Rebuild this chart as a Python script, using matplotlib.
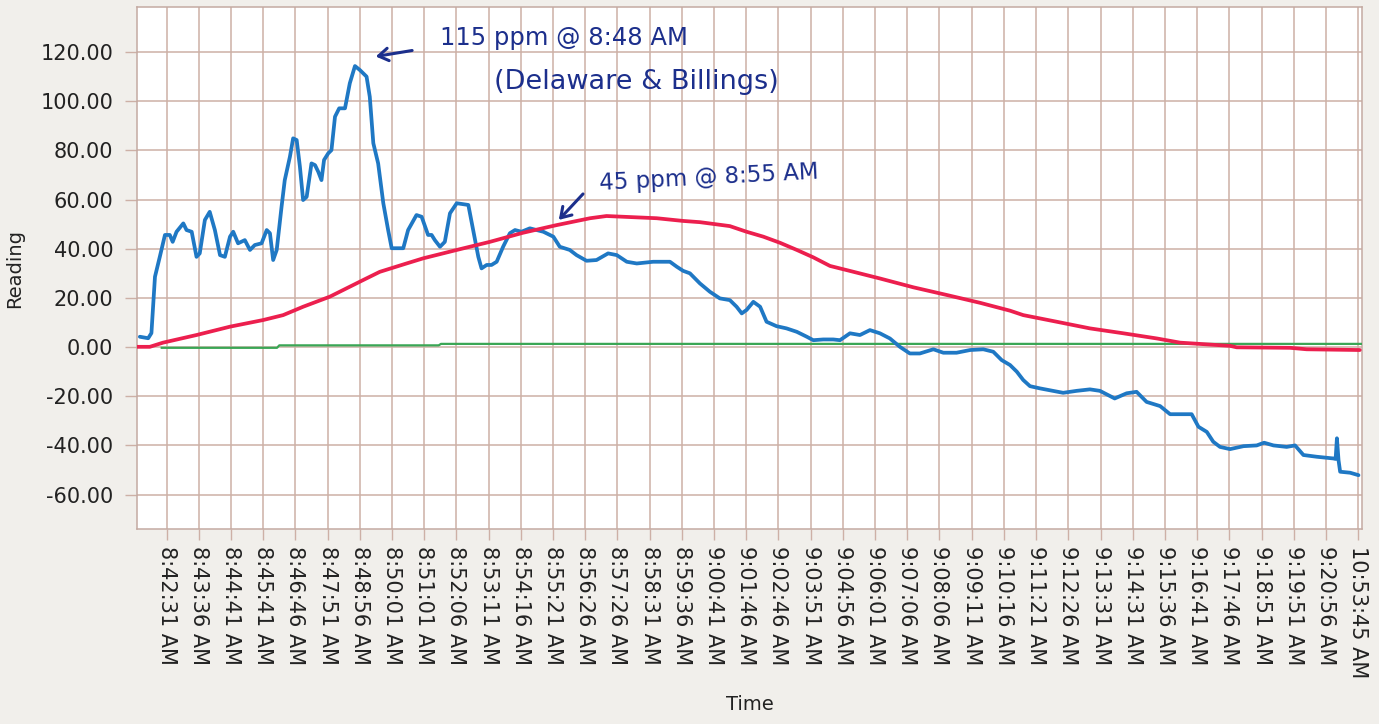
import numpy as np
import matplotlib
matplotlib.use("Agg")
import matplotlib.pyplot as plt
from matplotlib.ticker import FuncFormatter

# Sample time labels shown on the category axis
time_labels = [
    "8:42:31 AM", "8:43:36 AM", "8:44:41 AM", "8:45:41 AM", "8:46:46 AM",
    "8:47:51 AM", "8:48:56 AM", "8:50:01 AM", "8:51:01 AM", "8:52:06 AM",
    "8:53:11 AM", "8:54:16 AM", "8:55:21 AM", "8:56:26 AM", "8:57:26 AM",
    "8:58:31 AM", "8:59:36 AM", "9:00:41 AM", "9:01:46 AM", "9:02:46 AM",
    "9:03:51 AM", "9:04:56 AM", "9:06:01 AM", "9:07:06 AM", "9:08:06 AM",
    "9:09:11 AM", "9:10:16 AM", "9:11:21 AM", "9:12:26 AM", "9:13:31 AM",
    "9:14:31 AM", "9:15:36 AM", "9:16:41 AM", "9:17:46 AM", "9:18:51 AM",
    "9:19:51 AM", "9:20:56 AM", "10:53:45 AM",
]

# Sensor 1 (blue): position along the sample axis and reading (ppm)
blue_pos = [
    -0.83, -0.57, -0.47, -0.36, -0.21, -0.05, 0.10, 0.19, 0.31, 0.52, 0.62,
    0.78, 0.93, 1.03, 1.19, 1.34, 1.50, 1.66, 1.81, 1.97, 2.07, 2.22, 2.43,
    2.59, 2.74, 2.95, 3.11, 3.21, 3.31, 3.42, 3.57, 3.67, 3.83, 3.93, 4.04,
    4.14, 4.24, 4.35, 4.50, 4.61, 4.71, 4.81, 4.89, 5.02, 5.12, 5.23, 5.36,
    5.54, 5.69, 5.85, 6.00, 6.21, 6.31, 6.42, 6.57, 6.73, 6.88, 6.99, 7.14,
    7.35, 7.50, 7.76, 7.92, 8.12, 8.23, 8.33, 8.49, 8.64, 8.80, 9.01, 9.37,
    9.52, 9.68, 9.78, 9.94, 10.09, 10.25, 10.45, 10.66, 10.82, 11.02, 11.28,
    11.49, 11.70, 12.01, 12.21, 12.52, 12.73, 13.04, 13.35, 13.71, 13.98,
    14.29, 14.60, 15.11, 15.63, 15.84, 16.04, 16.25, 16.56, 16.87, 17.18,
    17.49, 17.70, 17.86, 18.01, 18.22, 18.43, 18.63, 18.94, 19.25, 19.57,
    19.88, 20.08, 20.39, 20.70, 20.91, 21.22, 21.53, 21.84, 22.15, 22.46,
    22.77, 23.08, 23.39, 23.81, 24.12, 24.53, 24.95, 25.36, 25.67, 25.93,
    26.19, 26.40, 26.60, 26.81, 27.12, 27.53, 27.84, 28.26, 28.67, 28.98,
    29.44, 29.81, 30.12, 30.43, 30.85, 31.16, 31.47, 31.83, 32.04, 32.30,
    32.50, 32.71, 33.02, 33.44, 33.85, 34.08, 34.37, 34.78, 35.04, 35.30,
    35.71, 36.23, 36.30, 36.34, 36.39, 36.44, 36.75, 37.01,
]
blue_ppm = [
    4.2, 3.6, 5.7, 28.6, 36.7, 45.6, 45.6, 42.8, 46.9, 50.3, 47.6,
    46.9, 36.7, 38.1, 51.7, 55.0, 47.6, 37.4, 36.7, 44.9, 46.9, 42.2, 43.5,
    39.5, 41.5, 42.2, 47.6, 46.3, 35.4, 39.5, 57.0, 67.9, 77.4, 84.9, 84.2,
    73.4, 59.8, 61.1, 74.7, 74.0, 71.3, 67.9, 76.1, 78.8, 80.1, 93.7, 97.1,
    97.1, 107.3, 114.3, 112.7, 110.0, 101.8, 82.9, 74.7, 58.5, 47.6, 40.2, 40.2,
    40.2, 47.6, 53.7, 53.0, 45.6, 45.6, 43.5, 40.8, 42.8, 54.4, 58.5, 57.8,
    47.6, 36.7, 32.0, 33.4, 33.4, 34.7, 40.8, 46.3, 47.6, 46.9, 48.3,
    47.6, 46.9, 44.9, 40.8, 39.5, 37.4, 35.1, 35.4, 38.1, 37.4,
    34.7, 34.0, 34.7, 34.7, 32.7, 31.0, 30.0, 25.9, 22.5, 19.8,
    19.1, 16.4, 13.7, 15.1, 18.4, 16.4, 10.3, 8.5, 7.6, 6.2,
    4.2, 2.8, 3.1, 3.1, 2.8, 5.6, 4.9, 6.9, 5.6, 3.5,
    0.1, -2.6, -2.6, -0.9, -2.3, -2.3, -1.2, -0.9, -1.9, -5.3,
    -7.3, -10.0, -13.4, -15.9, -16.8, -17.8, -18.6, -17.8, -17.2, -17.8,
    -20.9, -18.8, -18.2, -22.3, -24.0, -27.3, -27.3, -27.3, -32.4, -34.5,
    -38.5, -40.6, -41.5, -40.3, -40.0, -38.9, -40.0, -40.6, -40.0, -43.9,
    -44.6, -45.3, -45.5, -37.1, -46.0, -50.7, -51.1, -52.1,
]

# Sensor 2 (red)
red_pos = [
    -0.93, -0.52, -0.11, 0.93, 1.97, 3.00, 3.62, 4.24, 5.07, 6.11, 6.62,
    7.45, 7.97, 9.01, 10.04, 11.07, 12.11, 13.15, 13.66, 14.18, 15.22,
    16.04, 16.56, 17.49, 18.01, 18.53, 19.05, 19.57, 20.08, 20.60, 21.12,
    22.15, 23.19, 24.22, 25.26, 26.19, 26.60, 27.64, 28.67, 29.71, 30.75,
    31.47, 32.30, 33.02, 33.23, 34.89, 35.40, 37.05,
]
red_ppm = [
    0.1, 0.1, 1.8, 4.9, 8.3, 11.0, 13.0, 16.4, 20.5, 27.3, 30.6,
    34.0, 36.1, 39.5, 42.8, 46.5, 49.6, 52.4, 53.3, 53.0, 52.4,
    51.3, 50.8, 49.2, 46.9, 44.9, 42.4, 39.5, 36.5, 33.0, 31.3,
    27.9, 24.3, 21.2, 18.0, 14.8, 13.0, 10.3, 7.6, 5.6, 3.5,
    1.8, 1.1, 0.5, -0.1, -0.3, -0.9, -1.2,
]

# Sensor 3 (green)
green_pos = [-0.15, 3.43, 3.50, 8.45, 8.52, 37.12]
green_ppm = [-0.3, -0.3, 0.7, 0.7, 1.3, 1.3]

grid_col = "#cdb0a6"
ink = "#1c2f8c"

fig = plt.figure(figsize=(13.79, 7.24), dpi=100)
fig.patch.set_facecolor("#f1efeb")
ax = fig.add_axes([0.0993, 0.2693, 0.8884, 0.7210])
ax.set_facecolor("white")

ax.plot(green_pos, green_ppm, color="#3aa655", lw=1.6, zorder=3)
ax.plot(blue_pos, blue_ppm, color="#1f78c4", lw=2.7, zorder=4,
        solid_joinstyle="round", solid_capstyle="round")
ax.plot(red_pos, red_ppm, color="#ec1f4e", lw=2.7, zorder=5,
        solid_joinstyle="round", solid_capstyle="round")

ax.set_xlim(-0.92, 37.12)
ax.set_ylim(-74.0, 138.3)
ax.set_xticks(np.arange(len(time_labels)))
ax.set_xticklabels(time_labels, rotation=270, fontsize=15, color="#222222",
                   va="top", ha="center")
ax.set_yticks(np.arange(-60, 121, 20))
ax.yaxis.set_major_formatter(FuncFormatter(lambda v, p: f"{v:.2f}"))
ax.tick_params(axis="y", labelsize=15, colors=grid_col, labelcolor="#222222",
               length=9, width=1, pad=8)
ax.tick_params(axis="x", colors=grid_col, labelcolor="#222222",
               length=8, width=1, pad=4)
ax.grid(True, color=grid_col, lw=1.1, zorder=1)
ax.set_axisbelow(True)
for side in ("left", "right", "top", "bottom"):
    ax.spines[side].set_color("#c4aaa2")
    ax.spines[side].set_linewidth(1.1)

ax.set_xlabel("Time", fontsize=14, color="#222222", labelpad=12)
ax.set_ylabel("Reading", fontsize=14, color="#222222", labelpad=12)

# Handwritten notes
ax.annotate("", xy=(6.41, 118.0), xytext=(7.71, 120.8),
            arrowprops=dict(arrowstyle="->,head_length=0.7,head_width=0.45",
                            color=ink, lw=2.2), zorder=6)
ax.text(12.35, 125.7, "115 ppm @ 8:48 AM", fontsize=17.5, color=ink,
        ha="center", va="center", zorder=6)
ax.text(14.6, 107.8, "(Delaware & Billings)", fontsize=19.5, color=ink,
        ha="center", va="center", zorder=6)
ax.annotate("", xy=(12.12, 50.9), xytext=(12.99, 63.1),
            arrowprops=dict(arrowstyle="->,head_length=0.7,head_width=0.45",
                            color=ink, lw=2.2), zorder=6)
ax.text(16.85, 69.0, "45 ppm @ 8:55 AM", fontsize=16.5, color=ink,
        ha="center", va="center", rotation=3, zorder=6)

fig.savefig("out.png", dpi=100, facecolor=fig.get_facecolor())
